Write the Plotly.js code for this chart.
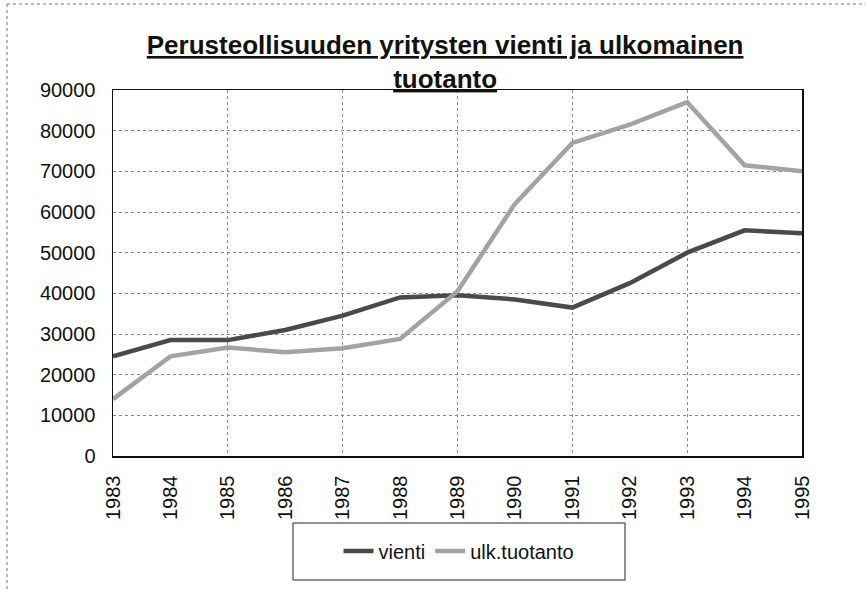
<!DOCTYPE html>
<html>
<head>
<meta charset="utf-8">
<script src="https://cdn.plot.ly/plotly-3.0.1.min.js"></script>
<style>html,body{margin:0;padding:0;background:#fff;}#chart{width:866px;height:592px;}</style>
</head>
<body>
<div id="chart"></div>
<script>
const years = [1983, 1984, 1985, 1986, 1987, 1988, 1989, 1990, 1991, 1992, 1993, 1994, 1995];
const vienti = [24500, 28500, 28500, 31000, 34500, 39000, 39500, 38500, 36500, 42500, 50000, 55500, 54800];
const ulkTuotanto = [14000, 24500, 26700, 25500, 26500, 28800, 40500, 62000, 77000, 81500, 87000, 71500, 70000];
const seriesNames = ["vienti", "ulk.tuotanto"];
const titleLines = ["Perusteollisuuden yritysten vienti ja ulkomainen", "tuotanto"];

const FONT = '"Liberation Sans", Arial, sans-serif';

const traces = [
  {x: years, y: vienti, name: seriesNames[0], type: 'scatter', mode: 'lines',
   line: {color: '#4a4a4a', width: 4.5}, xaxis: 'x', yaxis: 'y'},
  {x: years, y: ulkTuotanto, name: seriesNames[1], type: 'scatter', mode: 'lines',
   line: {color: '#a3a3a3', width: 4.5}, xaxis: 'x2', yaxis: 'y'}
];

const L = 113, R = 802, T = 90, B = 456, W = 866, H = 592;
const px = v => (v - L) / (R - L);
const py = v => (B - v) / (B - T);

const layout = {
  width: W, height: H,
  margin: {l: L, r: W - R, t: T, b: H - B, pad: 0},
  paper_bgcolor: '#ffffff', plot_bgcolor: '#ffffff',
  font: {family: FONT, size: 20, color: '#111'},
  title: {
    text: '<b><u>' + titleLines[0] + '</u></b><br><b><u>' + titleLines[1] + '</u></b>',
    font: {family: FONT, size: 26, color: '#111'},
    x: 0.514, xanchor: 'center', xref: 'container',
    y: 1 - 54 / H, yanchor: 'middle', yref: 'container'
  },
  showlegend: true,
  legend: {
    orientation: 'h', x: px(459), xanchor: 'center', y: py(551), yanchor: 'middle',
    font: {family: FONT, size: 20, color: '#111'},
    bgcolor: 'rgba(0,0,0,0)', borderwidth: 0
  },
  xaxis: {
    type: 'linear', range: [1983, 1995], tickmode: 'array', tickvals: years,
    ticktext: years.map(String), tickangle: -90,
    ticks: 'outside', ticklen: 10, tickcolor: 'rgba(0,0,0,0)', showgrid: false,
    showline: true, linecolor: '#111', linewidth: 1.5, mirror: true,
    zeroline: false,
    tickfont: {family: FONT, size: 20, color: '#111'}
  },
  xaxis2: {
    type: 'linear', overlaying: 'x', matches: 'x', anchor: 'y', range: [1983, 1995],
    tick0: 1983, dtick: 2, showticklabels: false, ticks: '',
    showgrid: true, gridcolor: '#8a8a8a', gridwidth: 1, griddash: 'dot',
    showline: false, zeroline: false
  },
  yaxis: {
    range: [0, 90000], dtick: 10000, tick0: 0, tickformat: 'd', ticks: '',
    showgrid: true, gridcolor: '#8a8a8a', gridwidth: 1, griddash: 'dot',
    showline: true, linecolor: '#111', linewidth: 1.5, mirror: true,
    zeroline: false, ticklabelstandoff: 12,
    tickfont: {family: FONT, size: 20, color: '#111'}
  },
  shapes: [
    {type: 'rect', xref: 'paper', yref: 'paper', x0: px(293), x1: px(625), y0: py(580), y1: py(523),
     line: {color: '#222', width: 1}, fillcolor: 'rgba(0,0,0,0)', layer: 'above'},
    {type: 'line', xref: 'paper', yref: 'paper', x0: px(7), x1: px(866), y0: py(4), y1: py(4),
     line: {color: '#777', width: 1, dash: 'dot'}},
    {type: 'line', xref: 'paper', yref: 'paper', x0: px(7), x1: px(7), y0: py(4), y1: py(592),
     line: {color: '#777', width: 1, dash: 'dot'}}
  ]
};

Plotly.newPlot('chart', traces, layout, {staticPlot: true, displayModeBar: false});
</script>
</body>
</html>
